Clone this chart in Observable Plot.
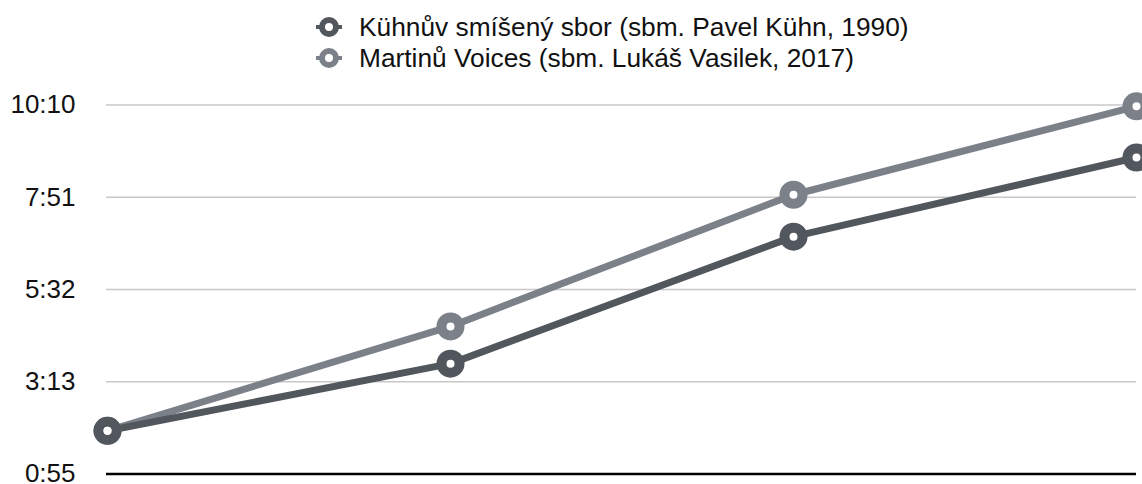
<!DOCTYPE html>
<html>
<head>
<meta charset="utf-8">
<script src="https://cdn.jsdelivr.net/npm/d3@7"></script>
<script src="https://cdn.jsdelivr.net/npm/@observablehq/plot@0.6"></script>
<style>
  html, body { margin: 0; padding: 0; background: #fff; }
  body { width: 1142px; height: 484px; overflow: hidden; font-family: "Liberation Sans", Arial, sans-serif; }
  #legend { position: relative; height: 80px; }
  .item { position: absolute; left: 316px; display: flex; align-items: center; font-size: 26.3px; line-height: 30px; color: #111; white-space: nowrap; }
  .item svg { margin-right: 17px; }
</style>
</head>
<body>
<div id="legend"></div>
<div id="chart"></div>
<script>
const categories = ["1", "2", "3", "4"];
const seriesNames = ["Kühnův smíšený sbor (sbm. Pavel Kühn, 1990)", "Martinů Voices (sbm. Lukáš Vasilek, 2017)"];
const seriesColors = ["#52575e", "#7b8089"];
// durations in seconds
const kuhnValues = [120, 221, 412, 531];
const martinuValues = [120, 277, 475, 608];
const tickValues = [55, 193.75, 332.5, 471.25, 610];
const tickLabels = ["0:55", "3:13", "5:32", "7:51", "10:10"];

const data = [];
categories.forEach((c, i) => data.push({x: c, y: kuhnValues[i], s: seriesNames[0]}));
categories.forEach((c, i) => data.push({x: c, y: martinuValues[i], s: seriesNames[1]}));

// legend
const legend = document.getElementById("legend");
const NS = "http://www.w3.org/2000/svg";
seriesNames.forEach((name, i) => {
  const d = document.createElement("div");
  d.className = "item";
  d.style.top = (i === 0 ? 12 : 43) + "px";
  const sw = document.createElementNS(NS, "svg");
  sw.setAttribute("width", 26);
  sw.setAttribute("height", 22);
  const ln = document.createElementNS(NS, "line");
  ln.setAttribute("x1", 0); ln.setAttribute("x2", 26);
  ln.setAttribute("y1", 11); ln.setAttribute("y2", 11);
  ln.setAttribute("stroke", seriesColors[i]); ln.setAttribute("stroke-width", 4);
  sw.appendChild(ln);
  const c = document.createElementNS(NS, "circle");
  c.setAttribute("cx", 13); c.setAttribute("cy", 11); c.setAttribute("r", 7);
  c.setAttribute("fill", "#fff"); c.setAttribute("stroke", seriesColors[i]); c.setAttribute("stroke-width", 6);
  sw.appendChild(c);
  d.appendChild(sw);
  const t = document.createElement("span");
  t.textContent = name;
  d.appendChild(t);
  legend.appendChild(d);
});

const chart = Plot.plot({
  width: 1142,
  height: 404,
  marginLeft: 106,
  marginRight: 6,
  marginTop: 24.5,
  marginBottom: 10.5,
  style: {fontFamily: "'Liberation Sans', Arial, sans-serif", background: "#fff"},
  x: {type: "point", domain: categories, padding: 0, axis: null},
  y: {domain: [55, 610]},
  color: {domain: seriesNames, range: seriesColors},
  marks: [
    Plot.ruleY(tickValues.slice(1), {stroke: "#c8c8c8", strokeWidth: 1.5}),
    Plot.ruleY([tickValues[0]], {stroke: "#000", strokeWidth: 2.5}),
    Plot.axisY({ticks: tickValues, tickFormat: (d, i) => tickLabels[i], tickSize: 0, tickPadding: 31, fontSize: 26, fill: "#111", label: null}),
    Plot.line(data.filter(d => d.s === seriesNames[1]), {x: "x", y: "y", stroke: seriesColors[1], strokeWidth: 7}),
    Plot.line(data.filter(d => d.s === seriesNames[0]), {x: "x", y: "y", stroke: seriesColors[0], strokeWidth: 7}),
    Plot.dot(data.filter(d => d.s === seriesNames[1]), {x: "x", y: "y", r: 14, fill: seriesColors[1]}),
    Plot.dot(data.filter(d => d.s === seriesNames[0]), {x: "x", y: "y", r: 14, fill: seriesColors[0]}),
    Plot.dot(data, {x: "x", y: "y", r: 4, fill: "#fff"})
  ]
});
document.getElementById("chart").appendChild(chart);
</script>
</body>
</html>
